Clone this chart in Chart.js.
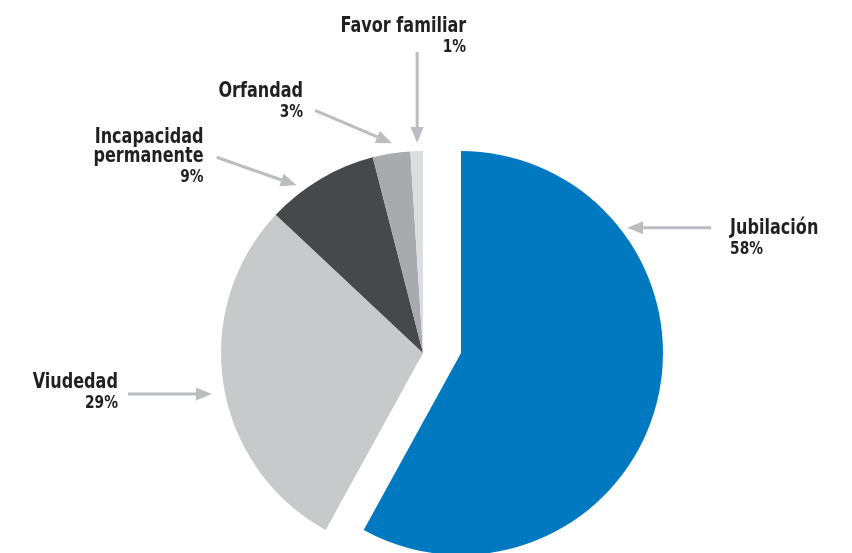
<!DOCTYPE html>
<html>
<head>
<meta charset="utf-8">
<script src="https://cdn.jsdelivr.net/npm/chart.js@4.4.1/dist/chart.umd.min.js"></script>
<style>
  html, body { margin: 0; padding: 0; background: #fff; }
  #wrap { width: 852px; height: 553px; }
</style>
</head>
<body>
<div id="wrap"><canvas id="pieChart"></canvas></div>
<script>
// data
const categories = ['Jubilación', 'Viudedad', 'Incapacidad permanente', 'Orfandad', 'Favor familiar'];
const shares = [58, 29, 9, 3, 1];
const percentLabels = ['58%', '29%', '9%', '3%', '1%'];
const sliceColors = ['#0079C1', '#C8C9CB', '#47484B', '#A9AAAD', '#DCDDDF'];

// callout layout (angle in degrees clockwise from 12 o'clock)
const callouts = [
    { angle: 53,    gap: 6,  tail: [84, 0],    align: 'left',  text: [19, 6],    lines: ['Jubilación'] },
    { angle: 259,   gap: 13, tail: [-84, 0],   align: 'right', text: [-10, -6],  lines: ['Viudedad'] },
    { angle: 323,   gap: 8,  tail: [-80, -28], align: 'right', text: [-13, -14], lines: ['Incapacidad', 'permanente'] },
    { angle: 351.6, gap: 10, tail: [-77, -33], align: 'right', text: [-12, -13], lines: ['Orfandad'] },
    { angle: 358.4, gap: 8,  tail: [0, -91],   align: 'right', text: [49, -20],  lines: ['Favor familiar'] },
];

const explodeGap = 38;
const textSquash = 0.85;
const fontFamily = '"DejaVu Sans Condensed", "Liberation Sans", sans-serif';

const explodePlugin = {
    id: 'explode',
    afterDatasetsUpdate(chart){
        let meta = chart.getDatasetMeta(0);
        meta.data[0].x += explodeGap;
    }
};

function drawArrow(ctx, x1, y1, x2, y2){
    let ang = Math.atan2(y2 - y1, x2 - x1);
    let head = 16, half = 6.5;
    let bx = x2 - head * Math.cos(ang), by = y2 - head * Math.sin(ang);
    ctx.strokeStyle = '#BCBDC0';
    ctx.fillStyle = '#BCBDC0';
    ctx.lineWidth = 3;
    ctx.beginPath();
    ctx.moveTo(x1, y1);
    ctx.lineTo(bx, by);
    ctx.stroke();
    ctx.beginPath();
    ctx.moveTo(x2, y2);
    ctx.lineTo(bx - half * Math.sin(ang), by + half * Math.cos(ang));
    ctx.lineTo(bx + half * Math.sin(ang), by - half * Math.cos(ang));
    ctx.closePath();
    ctx.fill();
}

function squashedText(ctx, str, x, y){
    ctx.save();
    ctx.translate(x, y);
    ctx.scale(textSquash, 1);
    ctx.fillText(str, 0, 0);
    ctx.restore();
}

const calloutPlugin = {
    id: 'callouts',
    afterDraw(chart){
        let ctx = chart.ctx;
        let meta = chart.getDatasetMeta(0);
        ctx.save();
        callouts.forEach((c, i) => {
            let arc = meta.data[i];
            let a = c.angle * Math.PI / 180;
            let rr = arc.outerRadius + c.gap;
            let tipX = arc.x + rr * Math.sin(a);
            let tipY = arc.y - rr * Math.cos(a);
            let tailX = tipX + c.tail[0];
            let tailY = tipY + c.tail[1];
            drawArrow(ctx, tailX, tailY, tipX, tipY);

            let tx = tailX + c.text[0];
            let ty = tailY + c.text[1];
            ctx.fillStyle = '#231F20';
            ctx.textAlign = c.align;
            ctx.textBaseline = 'alphabetic';
            ctx.font = 'bold 21px ' + fontFamily;
            c.lines.forEach((ln, k) => {
                squashedText(ctx, ln, tx, ty + k * 19);
            });
            ctx.font = 'bold 18px ' + fontFamily;
            squashedText(ctx, percentLabels[i], tx, ty + (c.lines.length - 1) * 19 + 20);
        });
        ctx.restore();
    }
};

new Chart(document.getElementById('pieChart').getContext('2d'), {
    type: 'pie',
    data: {
        labels: categories,
        datasets: [{
            data: shares,
            backgroundColor: sliceColors,
            borderWidth: 0,
            hoverOffset: 0
        }]
    },
    options: {
        responsive: true,
        maintainAspectRatio: false,
        animation: false,
        radius: 202,
        layout: { padding: { top: 153, bottom: 0, left: 0, right: 6 } },
        plugins: {
            legend: { display: false },
            tooltip: { enabled: false }
        }
    },
    plugins: [explodePlugin, calloutPlugin]
});
</script>
</body>
</html>
